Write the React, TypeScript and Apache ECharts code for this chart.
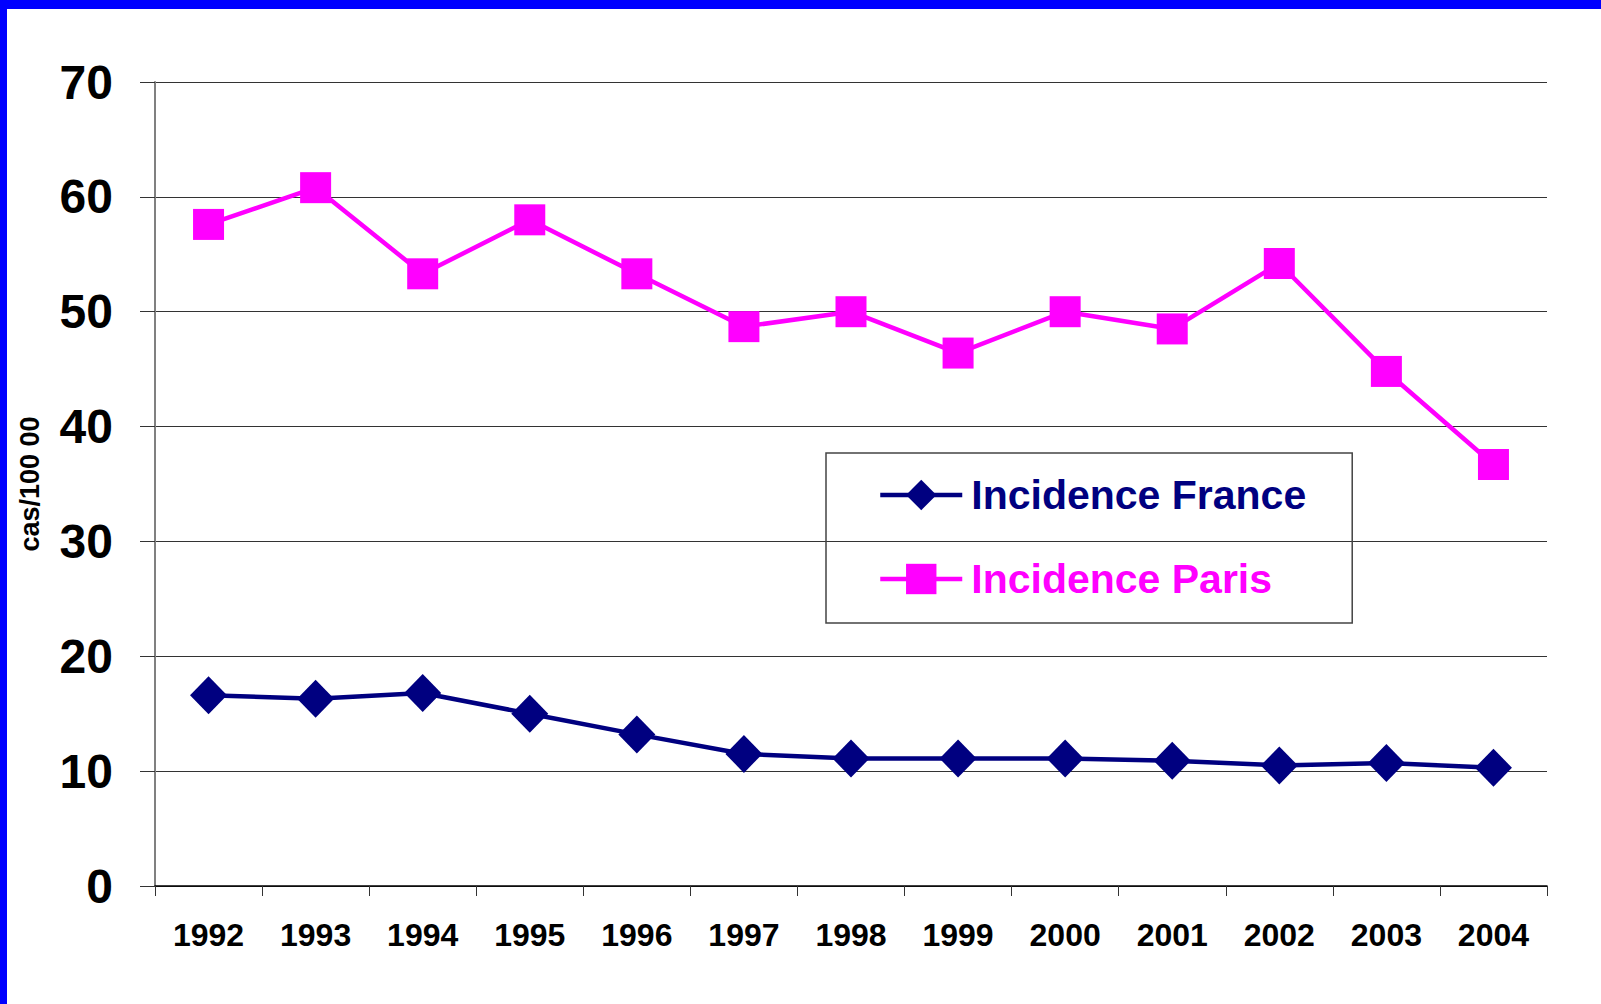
import React, { useEffect, useRef } from "react";
import * as echarts from "echarts";

const years = ["1992","1993","1994","1995","1996","1997","1998","1999","2000","2001","2002","2003","2004"];
const franceValues = [16.6, 16.3, 16.8, 15.0, 13.2, 11.5, 11.1, 11.1, 11.1, 10.9, 10.5, 10.7, 10.3];
const parisValues = [57.6, 60.8, 53.3, 58.0, 53.3, 48.7, 50.0, 46.4, 50.0, 48.5, 54.2, 44.8, 36.7];
const seriesNames = ["Incidence France", "Incidence Paris"];
const yAxisTitle = "cas/100 00";

const FONT = "'Liberation Sans', Arial, Helvetica, sans-serif";
const NAVY = "#000080";
const MAGENTA = "#FF00FF";

export default function App() {
  const ref = useRef<HTMLDivElement>(null);
  useEffect(() => {
    if (!ref.current) return;
    const chart = echarts.init(ref.current, undefined, { renderer: "svg" });
    chart.setOption({
      animation: false,
      backgroundColor: "#ffffff",
      grid: { left: 155, right: 54, top: 82, bottom: 118, containLabel: false },
      graphic: [
        { type: "rect", left: 0, top: 0, shape: { width: 1601, height: 9 }, style: { fill: "#0000FF" }, z: 100 },
        { type: "rect", left: 0, top: 0, shape: { width: 7, height: 1004 }, style: { fill: "#0000FF" }, z: 100 },
      ],
      legend: {
        orient: "vertical",
        left: 826,
        top: 453,
        padding: [20, 46, 22, 52],
        borderColor: "#444",
        borderWidth: 1.5,
        itemWidth: 82,
        itemHeight: 38,
        itemGap: 40,
        lineStyle: { width: 4.5 },
        textStyle: { fontFamily: FONT, fontSize: 41, fontWeight: "bold", lineHeight: 44, padding: [0, 0, 0, 4] },
        data: [
          { name: seriesNames[0], textStyle: { color: NAVY } },
          { name: seriesNames[1], textStyle: { color: MAGENTA } },
        ],
      },
      xAxis: {
        type: "category",
        data: years,
        boundaryGap: true,
        axisLine: { lineStyle: { color: "#000", width: 1.5 } },
        axisTick: { show: true, length: 10, lineStyle: { color: "#333", width: 1 } },
        axisLabel: { fontFamily: FONT, fontSize: 32, fontWeight: "bold", color: "#000", margin: 33, interval: 0 },
        splitLine: { show: false },
      },
      yAxis: {
        type: "value",
        min: 0,
        max: 70,
        interval: 10,
        name: yAxisTitle,
        nameLocation: "middle",
        nameRotate: 90,
        nameGap: 112,
        nameTextStyle: { fontFamily: FONT, fontSize: 27, fontWeight: "bold", color: "#000" },
        axisLine: { show: true, lineStyle: { color: "#808080", width: 2 } },
        axisTick: { show: true, length: 15, lineStyle: { color: "#333", width: 1 } },
        axisLabel: { fontFamily: FONT, fontSize: 48, fontWeight: "bold", color: "#000", margin: 42 },
        splitLine: { show: true, lineStyle: { color: "#333", width: 1 } },
      },
      series: [
        {
          name: seriesNames[0],
          type: "line",
          data: franceValues,
          symbol: "diamond",
          symbolSize: [37, 38],
          lineStyle: { color: NAVY, width: 4.5 },
          itemStyle: { color: NAVY },
          z: 3,
        },
        {
          name: seriesNames[1],
          type: "line",
          data: parisValues,
          symbol: "rect",
          symbolSize: 31,
          lineStyle: { color: MAGENTA, width: 4.5 },
          itemStyle: { color: MAGENTA },
          z: 3,
        },
      ],
    });
    return () => chart.dispose();
  }, []);
  return (
    <div
      ref={ref}
      style={{ position: "absolute", left: 0, top: 0, width: 1601, height: 1004, background: "#fff" }}
    />
  );
}
